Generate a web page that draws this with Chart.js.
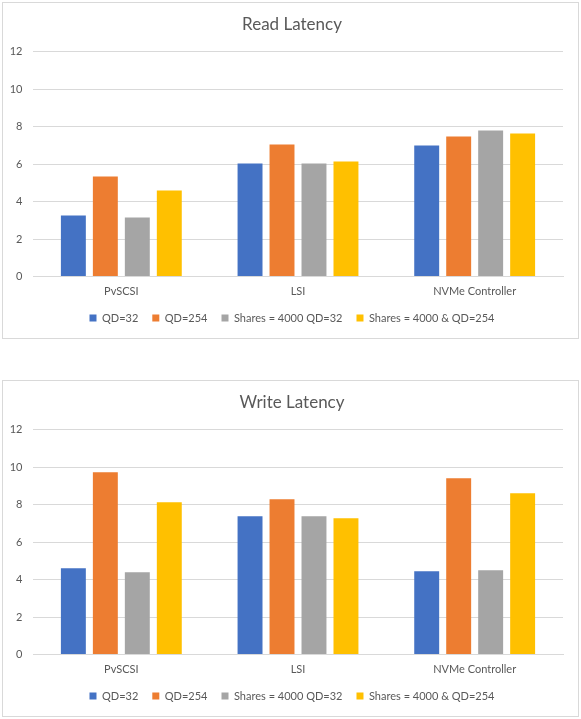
<!DOCTYPE html>
<html>
<head>
<meta charset="utf-8">
<script src="https://cdn.jsdelivr.net/npm/chart.js@4"></script>
<style>
  body { margin: 0; background: #fff; }
  .box { position: absolute; left: 2px; width: 575px; height: 335px; border: 1px solid #d9d9d9; }
  #readBox { top: 2px; }
  #writeBox { top: 380px; }
  canvas { display: block; }
</style>
</head>
<body>
<div class="box" id="readBox"><canvas id="readChart" width="575" height="335"></canvas></div>
<div class="box" id="writeBox"><canvas id="writeChart" width="575" height="335"></canvas></div>
<script>
// data
const categories = ['PvSCSI', 'LSI', 'NVMe Controller'];
const seriesNames = ['QD=32', 'QD=254', 'Shares = 4000 QD=32', 'Shares = 4000 & QD=254'];
const seriesColors = ['#4472C4', '#ED7D31', '#A5A5A5', '#FFC000'];

const readQd32 = [3.25, 6.03, 6.99];
const readQd254 = [5.33, 7.04, 7.47];
const readShares32 = [3.15, 6.03, 7.79];
const readShares254 = [4.59, 6.13, 7.63];

const writeQd32 = [4.6, 7.38, 4.44];
const writeQd254 = [9.72, 8.28, 9.4];
const writeShares32 = [4.39, 7.38, 4.5];
const writeShares254 = [8.12, 7.27, 8.6];

const yMin = 0, yMax = 12, yStep = 2;

const INK = '#595959';
const GRID = '#d9d9d9';
const FONT = 'Lato, "Open Sans", sans-serif';

function makeChart(id, title, series) {
  const ctx = document.getElementById(id).getContext('2d');
  return new Chart(ctx, {
    type: 'bar',
    data: {
      labels: categories,
      datasets: series.map((values, i) => ({
        label: seriesNames[i],
        data: values,
        backgroundColor: seriesColors[i],
        categoryPercentage: 0.724,
        barPercentage: 0.78,
      })),
    },
    options: {
      responsive: false,
      animation: false,
      devicePixelRatio: 1,
      // left padding + narrow y axis keeps the plot at x=30 but centres title/legend like Excel
      layout: { padding: { left: 18, right: 15, top: 0, bottom: 4.5 } },
      plugins: {
        title: {
          display: true,
          text: title,
          color: INK,
          font: { family: FONT, size: 17, weight: 'normal' },
          padding: { top: 11, bottom: 17.1 },
        },
        legend: {
          position: 'bottom',
          labels: {
            color: INK,
            font: { family: FONT, size: 11 },
            boxWidth: 7,
            boxHeight: 7,
            padding: 14,
          },
        },
        tooltip: { enabled: false },
      },
      scales: {
        x: {
          grid: { display: false, drawTicks: false },
          border: { display: true, color: GRID },
          ticks: { color: INK, font: { family: FONT, size: 11 }, padding: 8, maxRotation: 0 },
          afterFit: (s) => { s.height = 22; },
        },
        y: {
          min: yMin,
          max: yMax,
          grid: { color: GRID, drawTicks: false },
          border: { display: false },
          // mirrored labels are not clipped to the narrow axis box; negative padding pulls them back left
          ticks: {
            stepSize: yStep, color: INK, font: { family: FONT, size: 11 },
            mirror: true, crossAlign: 'far', padding: -23.3,
          },
          afterFit: (s) => { s.width = 12; },
        },
      },
    },
  });
}

makeChart('readChart', 'Read Latency', [readQd32, readQd254, readShares32, readShares254]);
makeChart('writeChart', 'Write Latency', [writeQd32, writeQd254, writeShares32, writeShares254]);
</script>
</body>
</html>
